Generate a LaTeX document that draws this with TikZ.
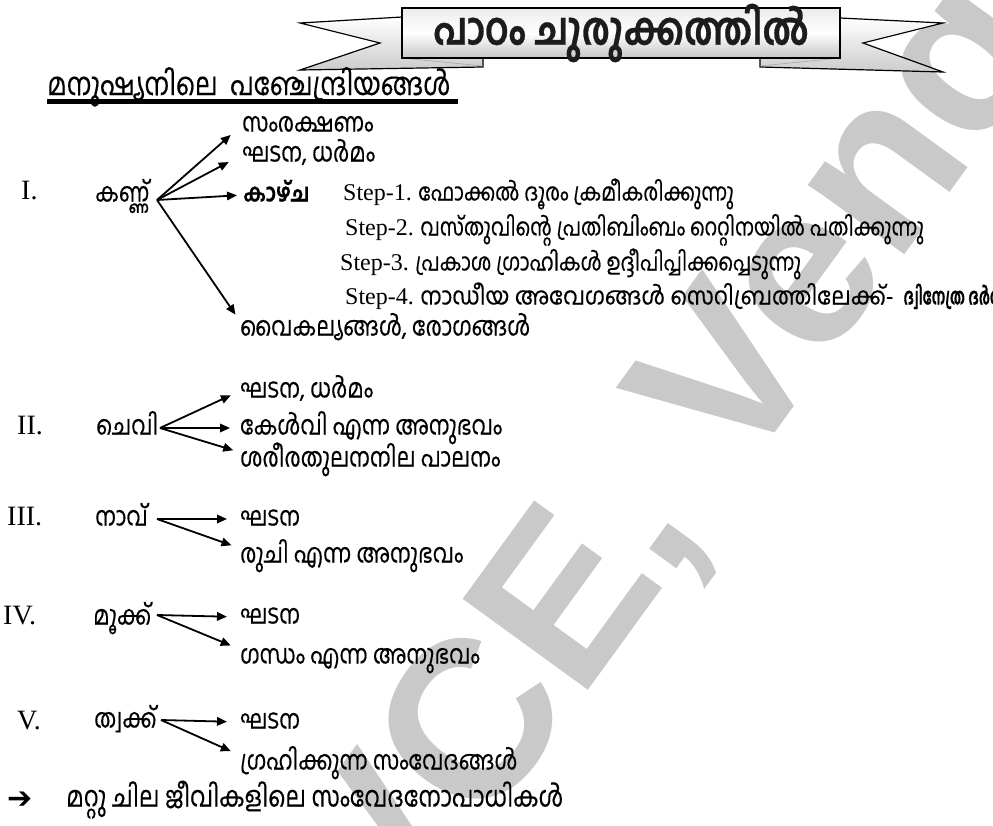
\documentclass[tikz,border=0pt]{standalone}
\usepackage{fontspec}
\usepackage{graphicx}
\setmainfont{Liberation Serif}
\newfontfamily\mlfont[Script=Malayalam, FakeStretch=0.82, UprightFeatures={FakeBold=0.35}, BoldFeatures={FakeBold=0.6}]{Hind Kochi}
\newfontfamily\symfont{DejaVu Sans}
\newfontfamily\wmfont{Liberation Sans}
\newcommand\stepfnt{\rmfamily\fontsize{24}{28}\selectfont}
\usetikzlibrary{arrows.meta}
\begin{document}
\begin{tikzpicture}[x=1pt,y=-1pt,
  ml/.style={font=\mlfont\fontsize{26.5}{30}\selectfont, anchor=west, inner sep=0pt, text height=14pt, text depth=1pt},
  mls/.style={ml, font=\mlfont\fontsize{24.3}{28}\selectfont},
  mlb/.style={ml, font=\mlfont\bfseries\fontsize{25}{28}\selectfont},
  rmn/.style={font=\fontsize{28}{30}\selectfont, anchor=west, inner sep=0pt, text height=13pt, text depth=1pt},
  arr/.style={line width=1.8pt, -{Triangle[length=10pt,width=8.5pt]}},
  tail/.style={draw=black, line width=1.2pt, top color=white, bottom color=gray!40, line join=miter},
  wm/.style={font=\wmfont\bfseries\fontsize{225}{225}\selectfont, text=gray!42, inner sep=0pt}
]
\useasboundingbox (0,0) rectangle (993,825);
\clip (0,0) rectangle (993,825);
\fill[white] (0,0) rectangle (993,825);
% watermark
\node[wm, rotate=54] (wmark) at (682,468) {VCE, Veng};
% banner
\path[tail] (402,17) -- (300,23) -- (380,43) -- (300,70) -- (483,67) -- (483,50) -- (402,50) -- cycle;
\path[tail] (840,18) -- (943,23) -- (863,43) -- (943,72) -- (760,67) -- (760,50) -- (840,50) -- cycle;
\draw[gray!70, line width=0.6pt] (402,58) -- (483,66);
\draw[gray!70, line width=0.6pt] (840,58) -- (760,66);
\shade[top color=gray!15, bottom color=gray!45, middle color=white, draw=black, line width=1.2pt] (402,8) rectangle (840,58);
\node[font=\mlfont\bfseries\fontsize{45}{47}\selectfont, text=gray!22!black, inner sep=0pt] (title) at (621,33) {പാഠം ചുരുക്കത്തിൽ};
% heading
\node[font=\mlfont\fontsize{31.5}{34}\selectfont, anchor=base west, inner sep=0pt] (head) at (47,95) {മനുഷ്യനിലെ~~പഞ്ചേന്ദ്രിയങ്ങൾ};
\draw[line width=4.5pt] (47,101.5) -- (458,101.5);
% I. eye
\node[rmn] (n1) at (21,193) {I.};
\node[ml] (eye) at (95,195) {കണ്ണ്};
\coordinate (eyeo) at (157,200);
\node[ml] (e1) at (242,125) {സംരക്ഷണം};
\node[ml] (e2) at (242,155) {ഘടന, ധർമം};
\node[mlb] (e3) at (243,195) {കാഴ്ച};
\node[mls] (s1) at (343,194) {{\stepfnt Step-1.} ഫോക്കൽ ദൂരം ക്രമീകരിക്കുന്നു};
\node[mls] (s2) at (345,229) {{\stepfnt Step-2.} വസ്തുവിന്റെ പ്രതിബിംബം റെറ്റിനയിൽ പതിക്കുന്നു};
\node[mls] (s3) at (340,264) {{\stepfnt Step-3.} പ്രകാശ ഗ്രാഹികൾ ഉദ്ദീപിപ്പിക്കപ്പെടുന്നു};
\node[mls] (s4) at (345,298) {{\stepfnt Step-4.} \scalebox{1.12}[1]{നാഡീയ അവേഗങ്ങൾ സെറിബ്രത്തിലേക്ക്-}\hspace{10pt}\scalebox{0.75}[1]{\bfseries\fontsize{23}{26}\selectfont ദ്വിനേത്ര ദർശനം}};
\node[ml] (e4) at (240,329) {വൈകല്യങ്ങൾ, രോഗങ്ങൾ};
\draw[arr, shorten >=15pt] (eyeo) -- (e1.west);
\draw[arr, shorten >=15pt] (eyeo) -- (e2.west);
\draw[arr, shorten >=6pt] (eyeo) -- (e3.west);
\draw[arr, shorten >=8pt] (eyeo) -- (e4.north west);
% II. ear
\node[rmn] (n2) at (17,428) {II.};
\node[ml] (ear) at (96,428) {ചെവി};
\coordinate (earo) at (160,428);
\node[ml] (r1) at (240,391) {ഘടന, ധർമം};
\node[ml] (r2) at (240,428) {കേൾവി എന്ന അനുഭവം};
\node[ml] (r3) at (240,460) {ശരീരതുലനനില പാലനം};
\draw[arr, shorten >=10pt] (earo) -- (r1.west);
\draw[arr, shorten >=10pt] (earo) -- (r2.west);
\draw[arr, shorten >=7pt] (earo) -- (r3.north west);
% III. tongue
\node[rmn] (n3) at (7,519) {III.};
\node[ml] (tongue) at (95,519) {നാവ്};
\coordinate (tono) at (157,519);
\node[ml] (t1) at (240,519) {ഘടന};
\node[ml] (t2) at (240,556) {രുചി എന്ന അനുഭവം};
\draw[arr, shorten >=13pt] (tono) -- (t1.west);
\draw[arr, shorten >=9pt] (tono) -- (t2.north west);
% IV. nose
\node[rmn] (n4) at (3,618) {IV.};
\node[ml] (nose) at (93,618) {മൂക്ക്};
\coordinate (noso) at (157,615);
\node[ml] (m1) at (240,617) {ഘടന};
\node[ml] (m2) at (240,657) {ഗന്ധം എന്ന അനുഭവം};
\draw[arr, shorten >=13pt] (noso) -- (m1.west);
\draw[arr, shorten >=10pt] (noso) -- (m2.north west);
% V. skin
\node[rmn] (n5) at (17,723) {V.};
\node[ml] (skin) at (94,721) {ത്വക്ക്};
\coordinate (skino) at (161,720);
\node[ml] (k1) at (240,722) {ഘടന};
\node[ml] (k2) at (240,763) {ഗ്രഹിക്കുന്ന സംവേദങ്ങൾ};
\draw[arr, shorten >=13pt] (skino) -- (k1.west);
\draw[arr, shorten >=10pt] (skino) -- (k2.north west);
% bottom
\node[font=\symfont\bfseries\fontsize{30}{32}\selectfont, anchor=west, inner sep=0pt] (bul) at (7,800) {➔};
\node[ml, font=\mlfont\fontsize{28.5}{32}\selectfont] (other) at (66,800) {മറ്റു ചില ജീവികളിലെ സംവേദനോപാധികൾ};
\end{tikzpicture}
\end{document}
